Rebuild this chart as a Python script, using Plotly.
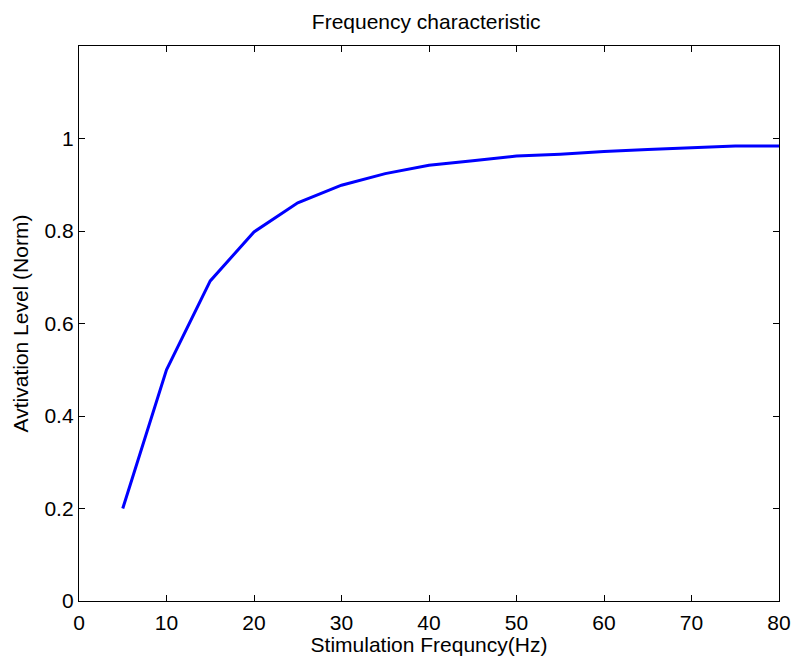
import plotly.graph_objects as go

freq_hz = [5, 10, 15, 20, 25, 30, 35, 40, 45, 50, 55, 60, 65, 70, 75, 80]
activation = [0.2, 0.5, 0.692, 0.798, 0.861, 0.899, 0.924, 0.942, 0.952, 0.962,
              0.966, 0.972, 0.976, 0.980, 0.984, 0.984]

x_ticks = [0, 10, 20, 30, 40, 50, 60, 70, 80]
y_ticks = [0, 0.2, 0.4, 0.6, 0.8, 1]
y_tick_labels = ["0", "0.2", "0.4", "0.6", "0.8", "1"]

FONT = "Liberation Sans, Arial, Helvetica, sans-serif"
FS = 21

fig = go.Figure()
fig.add_trace(go.Scatter(x=freq_hz, y=activation, mode="lines",
                         line=dict(color="#0000FF", width=3), showlegend=False))

axis_common = dict(showline=True, linecolor="black", linewidth=1.3, mirror="ticks",
                   ticks="inside", ticklen=6, tickcolor="black", tickwidth=1,
                   showgrid=False, zeroline=False, automargin=False,
                   tickfont=dict(family=FONT, size=FS, color="black"))

fig.update_layout(
    width=791, height=656,
    margin=dict(l=79, r=12, t=46, b=55),
    paper_bgcolor="white", plot_bgcolor="white",
    font=dict(family=FONT, color="black"),
    title=dict(text="Frequency characteristic", x=0.496, xref="paper", xanchor="center",
               y=1 - 22 / 656, yanchor="middle", yref="container",
               font=dict(family=FONT, size=FS, color="black")),
    xaxis=dict(range=[0, 80], tickvals=x_ticks, ticklabelstandoff=3,
               title=dict(text="Stimulation Frequncy(Hz)", standoff=10,
                          font=dict(family=FONT, size=FS, color="black")),
               **axis_common),
    yaxis=dict(range=[0, 1.2], tickvals=y_ticks, ticktext=y_tick_labels,
               title=dict(text="Avtivation Level (Norm)", standoff=10,
                          font=dict(family=FONT, size=FS, color="black")),
               **axis_common),
)

fig.write_html("out.html")
